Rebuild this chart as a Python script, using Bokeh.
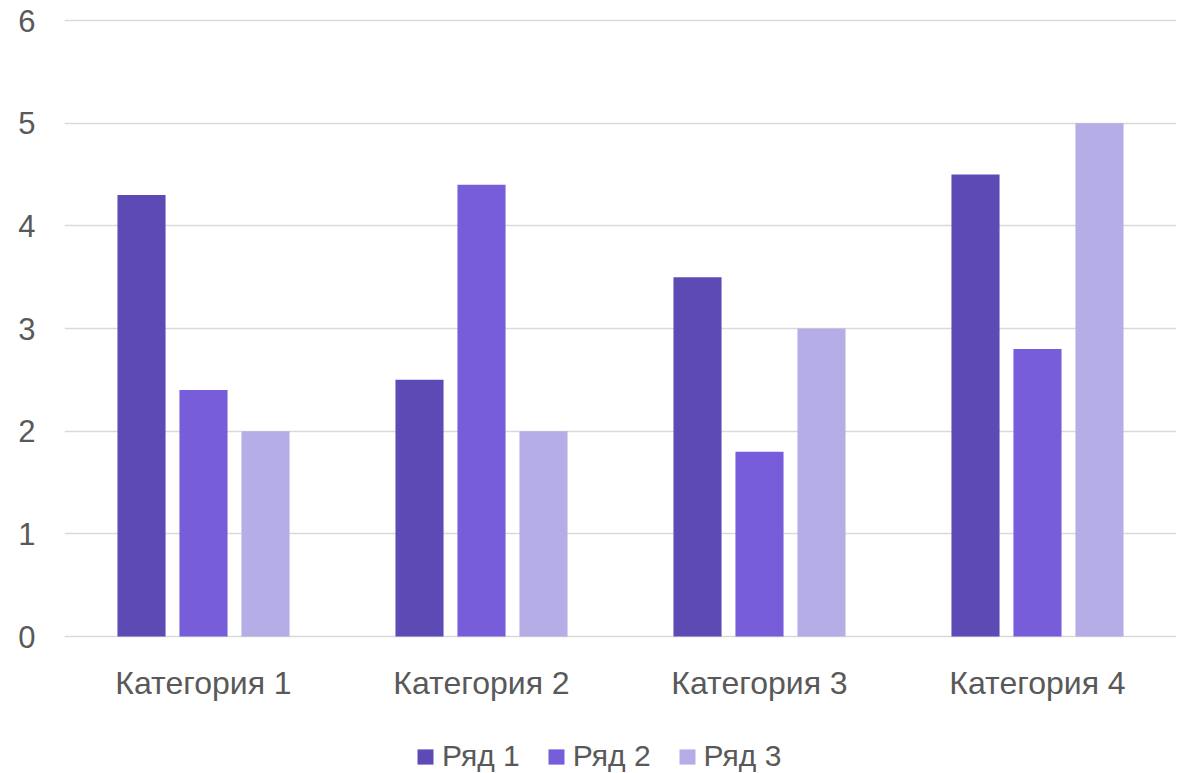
from bokeh.plotting import figure
from bokeh.models import FactorRange, Range1d, Legend, LegendItem, ColumnDataSource, FixedTicker
from bokeh.transform import dodge
from bokeh.embed import file_html
from bokeh.resources import INLINE

categories = ["Категория 1", "Категория 2", "Категория 3", "Категория 4"]
series_names = ["Ряд 1", "Ряд 2", "Ряд 3"]
series1 = [4.3, 2.5, 3.5, 4.5]
series2 = [2.4, 4.4, 1.8, 2.8]
series3 = [2.0, 2.0, 3.0, 5.0]
y_ticks = [0, 1, 2, 3, 4, 5, 6]

colors = ["#5E4AB5", "#775DD9", "#B5AEE6"]
FONT = "Liberation Sans"

source = ColumnDataSource(data=dict(cat=categories, s1=series1, s2=series2, s3=series3))

# frame spans from the top gridline area down to the page bottom so the legend can sit inside it
PX_PER_UNIT = 616 / 6.0
y_top = 6 + 2 / PX_PER_UNIT
y_bottom = -(773 - 636) / PX_PER_UNIT

p = figure(x_range=FactorRange(*categories), y_range=Range1d(y_bottom, y_top),
           output_backend="svg", toolbar_location=None,
           min_border_left=64, min_border_right=2, min_border_top=18, min_border_bottom=0)
p.frame_width = 1112
p.frame_height = 755
p.outline_line_color = None
p.background_fill_color = "white"

offsets = [-0.223, 0.0, 0.223]
renderers = []
for col, off, c in zip(["s1", "s2", "s3"], offsets, colors):
    r = p.vbar(x=dodge("cat", off, range=p.x_range), top=col, width=0.173, bottom=0,
               source=source, fill_color=c, line_color=None)
    renderers.append(r)

p.xgrid.grid_line_color = None
p.ygrid.grid_line_color = "#D9D9D9"
p.ygrid.grid_line_width = 1.5
p.yaxis.ticker = FixedTicker(ticks=y_ticks)

for ax in (p.xaxis[0], p.yaxis[0]):
    ax.axis_line_color = None
    ax.major_tick_line_color = None
    ax.minor_tick_line_color = None
    ax.major_tick_out = 0
    ax.major_tick_in = 0
    ax.major_label_text_font = FONT
    ax.major_label_text_color = "#595959"

p.yaxis.major_label_standoff = 29
p.xaxis.major_label_standoff = 28
p.yaxis.major_label_text_font_size = "31px"
p.xaxis.major_label_text_font_size = "32px"
p.xaxis.fixed_location = 0

legend = Legend(items=[LegendItem(label=n, renderers=[r]) for n, r in zip(series_names, renderers)],
                orientation="horizontal", location=(351, 0),
                glyph_width=20, glyph_height=19, label_standoff=7, spacing=26,
                padding=0, margin=0, border_line_color=None, background_fill_alpha=0,
                label_text_font=FONT, label_text_font_size="30px", label_text_color="#595959")
p.add_layout(legend, "center")

open("out.html", "w").write(file_html(p, INLINE))
